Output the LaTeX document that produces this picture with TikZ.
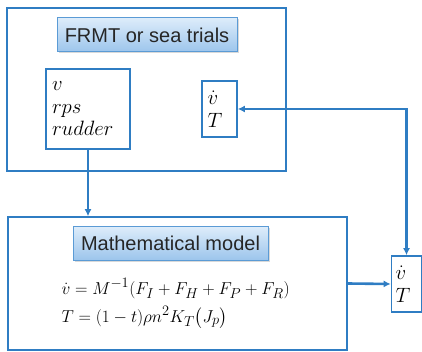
\documentclass[tikz,border=0pt]{standalone}
\usepackage{amsmath}
\usepackage{fontspec}
\setsansfont{Liberation Sans}
\usetikzlibrary{arrows.meta,shadows}

\definecolor{wire}{HTML}{2F7DC3}
\definecolor{rim}{HTML}{5B9BD5}
\definecolor{tagtop}{HTML}{DDECFA}
\definecolor{tagbot}{HTML}{9CC5EC}

\tikzset{
  frame/.style={draw=wire,line width=1.6pt,inner sep=0pt},
  tag/.style={draw=rim,line width=1pt,top color=tagtop,bottom color=tagbot,
    drop shadow={shadow xshift=1.5pt,shadow yshift=-1.5pt,opacity=0.3},
    font=\sffamily\fontsize{20}{22}\selectfont,text=black!85},
  vars/.style={frame,align=left,font=\fontsize{20}{22.5}\selectfont},
  link/.style={wire,line width=2.6pt,-{Latex[length=7pt,width=7pt]}}
}

\begin{document}
\begin{tikzpicture}[x=1pt,y=-1pt]
\useasboundingbox (0,0) rectangle (422,352);
% upper part: trials
\node[frame,minimum width=279pt,minimum height=163pt] (trials) at (146.5,89.5) {};
\node[tag,minimum width=180pt,minimum height=34pt] (frmt) at (147,35) {FRMT or sea trials};
\node[vars,minimum width=84pt,minimum height=80pt,text width=72pt] (inputs) at (88,109)
  {$v$\\ $rps$\\ $rudder$};
\node[vars,minimum width=35pt,minimum height=56pt,text width=24pt] (meas) at (219.5,109)
  {$\dot{v}$\\ $T$};
% lower part: model
\node[frame,minimum width=339pt,minimum height=133pt] (model) at (177.5,283.5) {};
\node[tag,minimum width=195pt,minimum height=33pt] (mathmod) at (170.5,243.5) {Mathematical model};
\node[anchor=west,align=left,font=\fontsize{19}{28}\selectfont] (eqs) at (58,303.5)
  {$\dot{v} = M^{-1}(F_I + F_H + F_P + F_R)$\\
   $T = (1-t)\rho n^2 K_T\bigl(J_p\bigr)$};
\node[vars,minimum width=30pt,minimum height=56pt,text width=22pt] (out) at (406.5,284)
  {$\dot{v}$\\ $T$};
% connectors
\draw[link] (inputs.south) -- (inputs.south |- model.north);
\draw[link] (model.east) -- (out.west);
\draw[link,{Latex[length=7pt,width=7pt]}-{Latex[length=7pt,width=7pt]}] (meas.east) -| (out.north);
\end{tikzpicture}
\end{document}
